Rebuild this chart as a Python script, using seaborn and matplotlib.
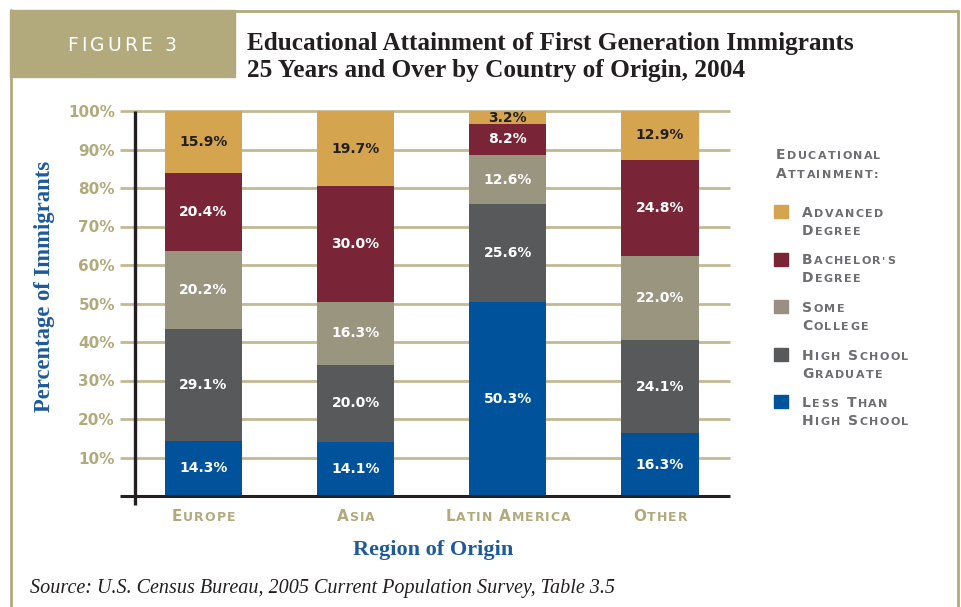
import numpy as np
import pandas as pd
import matplotlib
matplotlib.use("Agg")
import matplotlib.pyplot as plt
import matplotlib.transforms as mtransforms
from matplotlib.patches import Rectangle
from matplotlib.lines import Line2D
import seaborn as sns

# ---- data -------------------------------------------------------------
regions = ["Europe", "Asia", "Latin America", "Other"]
region_labels = ["Europe", "Asia", "Latin America", "Other"]
levels = ["Less Than High School", "High School Graduate", "Some College",
          "Bachelor's Degree", "Advanced Degree"]
less_than_hs = [14.3, 14.1, 50.3, 16.3]
hs_graduate = [29.1, 20.0, 25.6, 24.1]
some_college = [20.2, 16.3, 12.6, 22.0]
bachelors = [20.4, 30.0, 8.2, 24.8]
advanced = [15.9, 19.7, 3.2, 12.9]
yticks = [10, 20, 30, 40, 50, 60, 70, 80, 90, 100]
ytick_labels = ["10%", "20%", "30%", "40%", "50%", "60%", "70%", "80%", "90%", "100%"]

series = [less_than_hs, hs_graduate, some_college, bachelors, advanced]
colors = ["#00529b", "#58595b", "#99957f", "#7a2537", "#d5a44f"]
swatch_colors = ["#00529b", "#58595b", "#9a8f85", "#7a2537", "#d5a44f"]
label_colors = ["white", "white", "white", "white", "#231f20"]

KHAKI = "#b2aa7c"
GRID = "#c2b993"
BLUE = "#1d5a9b"
GRAY = "#6d6e71"

sns.set_theme(style="white")
plt.rcParams["font.family"] = ["DejaVu Sans"]

W, H = 961, 607
fig = plt.figure(figsize=(W / 100, H / 100), dpi=100)
fig.patch.set_facecolor("white")

ax = fig.add_axes([135 / W, 1 - 496 / H, (730 - 135) / W, (496 - 111) / H])
ax.set_facecolor("none")

# ---- stacked bars ------------------------------------------------------
df = pd.DataFrame({"region": regions})
bottom = np.zeros(len(regions))
for name, vals, col in zip(levels, series, colors):
    df[name] = vals
    sns.barplot(data=df, x="region", y=name, order=regions, color=col,
                width=0.507, bottom=bottom, saturation=1, ax=ax,
                linewidth=0, zorder=3)
    bottom = bottom + np.asarray(vals)

# value labels in the middle of every segment
bottom = np.zeros(len(regions))
for vals, tc in zip(series, label_colors):
    for i, v in enumerate(vals):
        ax.text(i, bottom[i] + v / 2, f"{v:.1f}%", ha="center", va="center",
                color=tc, fontsize=10, fontweight="bold", zorder=5)
    bottom = bottom + np.asarray(vals)

ax.set_xlim(-0.45, 3.46)
ax.set_ylim(0, 100)

# gridlines, running out past the axis line
for t in yticks:
    ax.plot([-0.55, 3.46], [t, t], color=GRID, lw=2, zorder=1, clip_on=False,
            solid_capstyle="butt")
# baseline and vertical axis line
ax.plot([-0.55, 3.46], [0, 0], color="#231f20", lw=2.2, zorder=6,
        clip_on=False, solid_capstyle="butt")
ax.plot([-0.45, -0.45], [-2.4, 100], color="#231f20", lw=2.4, zorder=6,
        clip_on=False, solid_capstyle="butt")

for s in ax.spines.values():
    s.set_visible(False)
ax.set_yticks(yticks)
ax.set_yticklabels(ytick_labels)
ax.tick_params(axis="y", length=0, pad=14.5, labelsize=11, labelcolor=KHAKI)
for lab in ax.get_yticklabels():
    lab.set_fontweight("bold")
ax.set_xticks([])
ax.set_xlabel("")
ax.set_ylabel("")
ax.grid(False)

# ---- helpers for small-caps lettering ---------------------------------
ident = mtransforms.IdentityTransform()
renderer = fig.canvas.get_renderer()


def caps(x, y, s, big, small, color, ha="left", track=1.5, space=None,
         weight="bold"):
    """Draw s in small caps at pixel position (x, y) measured from top-left."""
    ypix = H - y
    arts = []
    for ch in s:
        if ch == " ":
            arts.append((None, space if space is not None else small * 0.45))
            continue
        size = big if (ch.isupper() or ch.isdigit()) else small
        t = fig.text(0, 0, ch.upper(), fontsize=size, color=color,
                     transform=ident, ha="left", va="baseline",
                     family="DejaVu Sans", fontweight=weight)
        w = t.get_window_extent(renderer).width
        arts.append((t, w))
    total = sum(w for _, w in arts) + track * (len(arts) - 1)
    x0 = x if ha == "left" else (x - total / 2 if ha == "center" else x - total)
    cx = x0
    for t, w in arts:
        if t is not None:
            t.set_position((cx, ypix))
        cx += w + track


# x category labels
for i, lab in enumerate(region_labels):
    xd = ax.transData.transform((i, 0))[0]
    caps(xd, 521, lab, 11, 9, KHAKI, ha="center", track=1.0, space=5)

# ---- legend ------------------------------------------------------------
caps(776, 159, "Educational", 10, 8, GRAY, track=1.4, space=5)
caps(776, 178, "Attainment:", 10, 8, GRAY, track=1.4, space=5)
legend_lines = [("Advanced", "Degree"), ("Bachelor's", "Degree"),
                ("Some", "College"), ("High School", "Graduate"),
                ("Less Than", "High School")]
legend_cols = swatch_colors[::-1]
for k, ((l1, l2), col) in enumerate(zip(legend_lines, legend_cols)):
    top = 205 + k * 47.5
    fig.patches.append(Rectangle((774, H - top - 13), 14, 13, color=col,
                                 transform=ident, figure=fig))
    caps(802, top + 12, l1, 10, 8, GRAY, track=1.4, space=5)
    caps(802, top + 30, l2, 10, 8, GRAY, track=1.4, space=5)

# ---- frame and header ---------------------------------------------------
fig.patches.append(Rectangle((10, H - 77), 225, 67, color=KHAKI,
                             transform=ident, figure=fig, zorder=0))
fig.lines.append(Line2D([11, 11], [0, H - 10], color=KHAKI, lw=2,
                        transform=ident, figure=fig))
fig.lines.append(Line2D([234, 958], [H - 11, H - 11], color=KHAKI, lw=2,
                        transform=ident, figure=fig))
fig.lines.append(Line2D([958, 958], [0, H - 11], color=KHAKI, lw=2,
                        transform=ident, figure=fig))
caps(122, 51, "FIGURE 3", 13.5, 13.5, "white", ha="center", track=3.0,
     space=7, weight="normal")

fig.text(247, H - 50, "Educational Attainment of First Generation Immigrants",
         transform=ident, family="Liberation Serif", fontweight="bold",
         fontsize=18.2, color="#231f20", va="baseline")
fig.text(247, H - 77, "25 Years and Over by Country of Origin, 2004",
         transform=ident, family="Liberation Serif", fontweight="bold",
         fontsize=18.2, color="#231f20", va="baseline")

fig.text(45, H - 286, "Percentage of Immigrants", transform=ident,
         rotation=90, ha="center", va="center", family="Liberation Serif",
         fontweight="bold", fontsize=16.3, color=BLUE)
fig.text(433, H - 550, "Region of Origin", transform=ident, ha="center",
         va="center", family="Liberation Serif", fontweight="bold",
         fontsize=16, color=BLUE)
fig.text(30, H - 588, "Source: U.S. Census Bureau, 2005 Current Population "
         "Survey, Table 3.5", transform=ident, ha="left", va="center",
         family="Liberation Serif", style="italic", fontsize=14.5,
         color="#231f20")

fig.savefig("out.png", dpi=100, facecolor="white")
